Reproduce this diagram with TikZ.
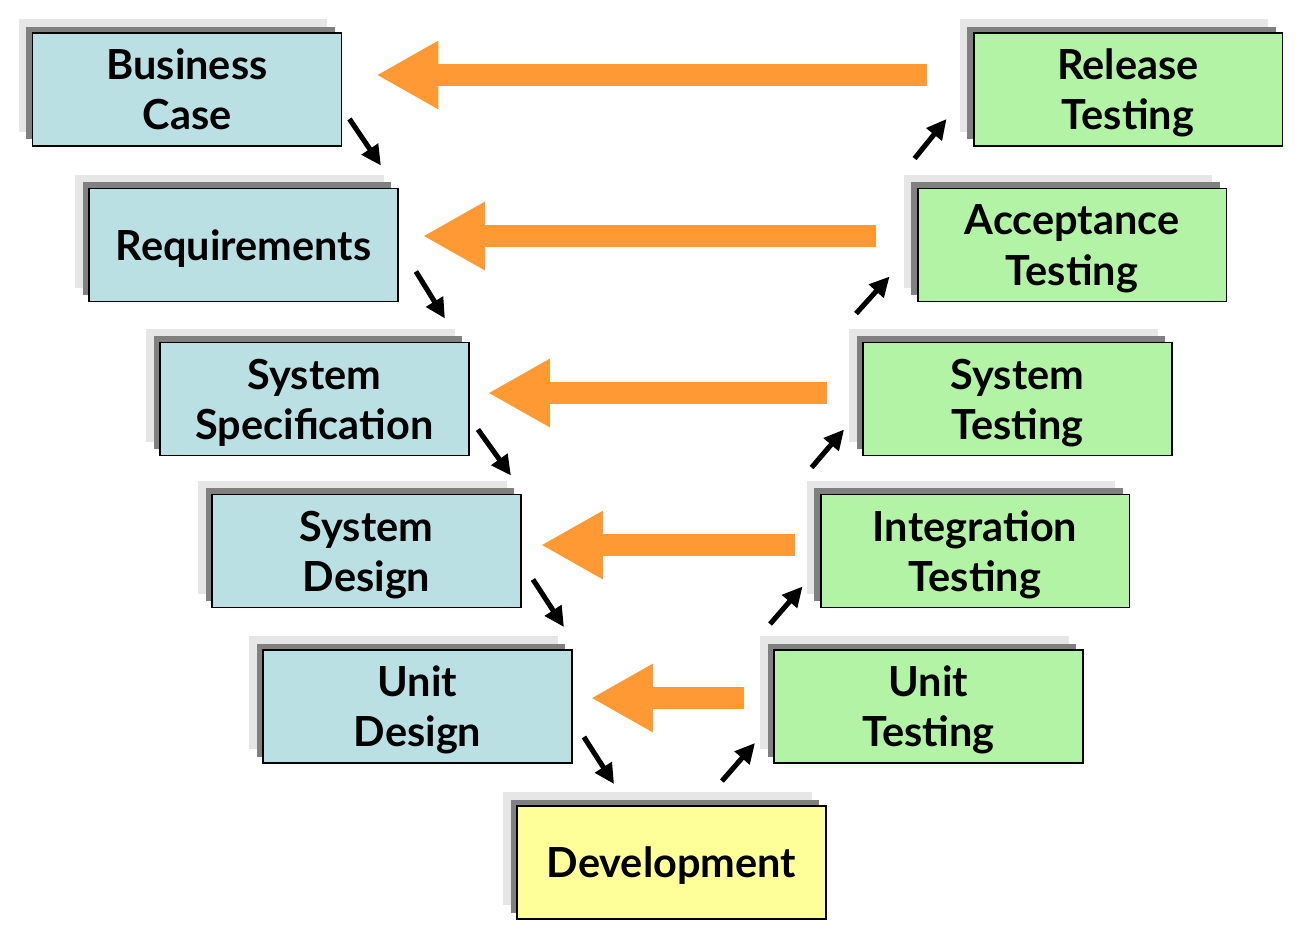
\documentclass[tikz,border=0pt]{standalone}
\usepackage{fontspec}
\setmainfont{Lato}
\usetikzlibrary{calc,shadows,arrows.meta}
\definecolor{leftfill}{HTML}{BBE0E3}
\definecolor{rightfill}{HTML}{B3F3A6}
\definecolor{devfill}{HTML}{FFFF99}
\definecolor{backarrow}{HTML}{FF9933}
\definecolor{shadelight}{HTML}{E6E6E6}
\definecolor{shadedark}{HTML}{808080}
\tikzset{
  phase/.style={draw=black, line width=1.1pt, inner sep=0pt,
    minimum width=6.18cm, minimum height=2.26cm, align=center,
    text depth=0pt,
    font=\fontsize{23.6}{28.5}\selectfont\bfseries,
    copy shadow={shadow xshift=-0.28cm, shadow yshift=0.28cm, fill=shadelight, draw=none},
    copy shadow={shadow xshift=-0.13cm, shadow yshift=0.13cm, fill=shadedark, draw=none}},
  leftbox/.style={phase, fill=leftfill},
  rightbox/.style={phase, fill=rightfill},
  devbox/.style={phase, fill=devfill},
  flow/.style={line width=2.9pt, -{Triangle[length=0.4cm, width=0.38cm]}},
  feedback/.style={backarrow, line width=0.44cm, -{Triangle[length=1.24cm, width=1.28cm]}}
}
\begin{document}
\begin{tikzpicture}[x=0.02cm, y=-0.02cm]
    \useasboundingbox (0,0) rectangle (1300,947);

    \node[leftbox] (bcase) at (187,89.5) {Business\\Case};
    \node[leftbox] (req) at (243.5,245) {Requirements};
    \node[leftbox] (sspec) at (314.5,399) {System\\Specification};
    \node[leftbox] (sdes) at (366.5,551) {System\\Design};
    \node[leftbox] (udes) at (417.5,706.5) {Unit\\Design};

    \node[devbox] (dev) at (671.5,862.5) {Development};

    \node[rightbox] (rtest) at (1128,89.5) {Release\\Testing};
    \node[rightbox] (atest) at (1072,245) {Acceptance\\Testing};
    \node[rightbox] (stest) at (1017.5,399) {System\\Testing};
    \node[rightbox] (itest) at (975,551) {Integration\\Testing};
    \node[rightbox] (utest) at (928.5,706.5) {Unit\\Testing};

    \draw[flow] ($(bcase.south east)+(7,-28)$) -- ($(req.north east)+(-18,-22)$);
    \draw[flow] ($(req.south east)+(17,-31)$) -- ($(sspec.north east)+(-25,-23)$);
    \draw[flow] ($(sspec.south east)+(8,-27)$) -- ($(sdes.north east)+(-11,-18)$);
    \draw[flow] ($(sdes.south east)+(11,-29)$) -- ($(udes.north east)+(-9,-22)$);
    \draw[flow] ($(udes.south east)+(11,-27)$) -- ($(dev.north west)+(98,-21)$);

    \draw[flow] ($(dev.north east)+(-105,-24)$) -- ($(utest.south west)+(-18,-21)$);
    \draw[flow] ($(utest.north west)+(-3,-25)$) -- ($(itest.south west)+(-17,-22)$);
    \draw[flow] ($(itest.north west)+(-8,-26)$) -- ($(stest.south west)+(-18,-27)$);
    \draw[flow] ($(stest.north west)+(-6,-28)$) -- ($(atest.south west)+(-27,-26)$);
    \draw[flow] ($(atest.north west)+(-2,-29)$) -- ($(rtest.south west)+(-26,-28)$);

    \draw[feedback] ($(rtest.west)+(-46,-14.5)$) -- ($(bcase.east)+(34,-14.5)$);
    \draw[feedback] ($(atest.west)+(-41,-9)$) -- ($(req.east)+(24,-9)$);
    \draw[feedback] ($(stest.west)+(-35,-6)$) -- ($(sspec.east)+(18,-6)$);
    \draw[feedback] ($(itest.west)+(-25,-6)$) -- ($(sdes.east)+(19,-6)$);
    \draw[feedback] ($(utest.west)+(-29,-8.5)$) -- ($(udes.east)+(18,-8.5)$);
\end{tikzpicture}
\end{document}
